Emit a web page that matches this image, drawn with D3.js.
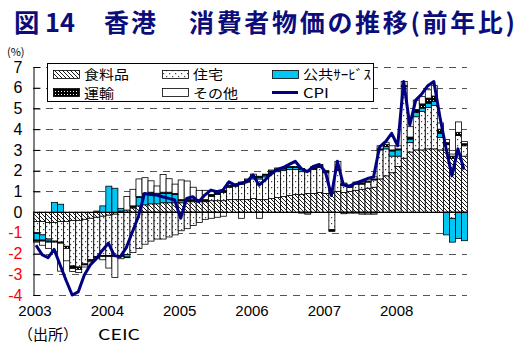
<!DOCTYPE html>
<html><head><meta charset="utf-8">
<script src="https://cdn.jsdelivr.net/npm/d3@7"></script>
<style>
html,body{margin:0;padding:0;background:#fff;}
svg{display:block;}
</style></head><body>
<svg id="chart" width="523" height="343"></svg>
<script>
// ---- data ----
const years = ["2003","2004","2005","2006","2007","2008"];
const monthNums = ["01","02","03","04","05","06","07","08","09","10","11","12"];
const months = years.flatMap(yr => monthNums.map(m => yr + "-" + m));
const yTicks = [7,6,5,4,3,2,1,0,-1,-2,-3,-4];
const yTickLabels = ["7","6","5","4","3","2","1","0","-1","-2","-3","-4"];
const seriesNames = ["食料品","住宅","公共ｻｰﾋﾞｽ","運輸","その他","CPI"];

const food = [
 -0.45,-0.45,-0.5,-0.5,-0.45,-0.45,-0.4,-0.4,-0.35,-0.3,-0.25,-0.2,
 -0.15,-0.1,0.05,0.1,0.2,0.3,0.35,0.4,0.4,0.45,0.45,0.45,
 0.45,0.5,0.5,0.5,0.5,0.55,0.55,0.55,0.6,0.6,0.6,0.6,
 0.65,0.6,0.6,0.65,0.7,0.75,0.8,0.85,0.85,0.9,0.9,0.95,
 0.9,0.95,1.0,0.95,1.0,1.05,1.1,1.15,1.2,1.6,1.75,1.9,
 2.2,2.6,2.9,3.0,3.0,3.05,3.05,3.0,3.0,2.6,2.8,2.7];
const housing = [
 -0.55,-0.65,-0.8,-0.9,-1.0,-1.2,-2.2,-2.25,-2.15,-2.0,-1.9,-1.9,
 -1.95,-2.0,-2.1,-2.05,-1.95,-1.75,-1.55,-1.4,-1.3,-1.3,-1.2,-1.1,
 -0.9,-0.8,-0.65,-0.5,-0.35,0.2,0.3,0.4,0.6,0.65,0.75,0.85,
 0.95,1.0,1.1,1.2,1.25,1.25,1.25,1.2,1.1,1.05,1.15,1.2,
 1.0,-0.85,1.0,0.35,0.2,0.3,0.25,0.3,0.35,1.4,1.3,0.8,
 0.5,3.45,0.45,1.6,1.85,2.0,2.1,0.6,0.25,-0.3,0.9,0.5];
const publicSvc = [
 -0.35,-0.25,-0.1,0.47,0.38,0,0,0,0,0,0.05,0.3,
 1.25,1.15,0.13,-0.12,0.05,0.4,0.5,0.5,0.45,0.45,0.45,0.4,
 0.1,0.05,0.05,0.05,0.05,0.05,0.05,0.05,0.05,0.05,0.05,0.05,
 0.08,0.08,0.08,0.08,0.08,0.08,0.1,0.1,0.1,-0.1,0.05,0.05,
 0.05,0,0,-0.08,-0.05,-0.05,-0.1,-0.1,-0.1,0,0.12,0.25,
 0.3,0,0.17,0.2,0.17,0.2,0.2,0.2,-1.1,-1.15,-1.27,-1.38];
const transport = [
 -0.05,-0.05,-0.05,-0.05,-0.05,-0.1,-0.12,-0.12,-0.05,-0.05,-0.05,-0.05,
 -0.05,-0.05,-0.05,-0.03,0.05,0.05,0.06,0.06,0.06,0.06,0.06,0.05,
 0.05,0.05,0.05,0.05,0.05,0.05,0.05,0.05,0.05,0.05,0.05,0.05,
 0.05,0.05,0.05,0.05,0.05,0.05,0.05,0.05,0.05,0.05,0.05,0.05,
 0.05,-0.08,0.05,0.05,0.05,0.05,0.05,0.05,0.05,0.05,0.1,0.05,
 0.05,0.05,0.1,0.15,0.2,0.25,0.25,0.2,0.1,0.1,0.15,0.1];
const others = [
 -0.05,-0.2,-0.3,-0.45,-1.35,-0.6,-0.15,-0.15,-0.1,-0.05,-0.05,-0.15,
 -0.55,-1.0,-0.1,0.65,0.8,0.85,0.75,0.55,0.35,0.85,0.65,0.45,
 0.95,0.9,0.6,0.45,0.45,-0.3,-0.25,-0.2,0.1,0,-0.3,0.05,
 0.1,-0.3,0,0.05,0.05,0,0,0,-0.05,0,0.05,0.05,
 0,0,0.4,0.05,0.05,0.05,0.05,0.1,0.1,0.15,0.1,0.2,
 0.15,0.2,0.5,0.45,0.35,0.4,0.5,0.3,0.15,0.1,0.5,0.1];
const cpi = [
 -1.6,-2.05,-2.2,-1.8,-2.55,-3.3,-4.0,-3.85,-3.05,-2.55,-2.25,-1.85,
 -1.5,-2.1,-2.15,-1.7,-0.95,-0.2,0.9,0.85,0.82,0.74,0.66,0.58,
 -0.3,0.66,0.74,0.5,0.82,1.06,0.98,1.06,1.46,1.3,1.39,1.46,
 1.8,1.3,1.55,1.85,2.05,2.15,2.3,2.45,2.1,1.95,2.2,2.3,
 1.95,0.8,2.45,1.3,1.25,1.4,1.5,1.62,1.7,3.15,3.4,3.8,
 3.2,6.3,4.2,5.4,5.7,6.1,6.3,4.6,3.1,1.75,3.05,2.05];

// ---- chart ----
const svg = d3.select("#chart");
const navy = "#0c0c7a";
const numFont = "'Liberation Sans Narrow','Liberation Sans',Arial,sans-serif";
const jpFont = "'Noto Sans CJK JP','Noto Sans',sans-serif";

const x = d3.scaleBand().domain(months).range([33, 467]).padding(0);
const y = d3.scaleLinear().domain([-4, 7]).range([295, 67]);

// patterns
const defs = svg.append("defs");
const ph = defs.append("pattern").attr("id","hatch").attr("patternUnits","userSpaceOnUse")
  .attr("width",4).attr("height",4);
ph.append("rect").attr("width",4).attr("height",4).attr("fill","#fff");
ph.append("path").attr("d","M-1,-1 L5,5 M-1,3 L1,5 M3,-1 L5,1").attr("stroke","#000").attr("stroke-width",0.9);
const pd = defs.append("pattern").attr("id","dots").attr("patternUnits","userSpaceOnUse")
  .attr("width",6).attr("height",6);
pd.append("rect").attr("width",6).attr("height",6).attr("fill","#fff");
pd.append("rect").attr("x",1).attr("y",1).attr("width",1.2).attr("height",1.2).attr("fill","#444");
pd.append("rect").attr("x",4).attr("y",4).attr("width",1.2).attr("height",1.2).attr("fill","#444");
const pc = defs.append("pattern").attr("id","checker").attr("patternUnits","userSpaceOnUse")
  .attr("width",3).attr("height",3);
pc.append("rect").attr("width",3).attr("height",3).attr("fill","#000");
pc.append("rect").attr("x",1).attr("y",1).attr("width",1).attr("height",1).attr("fill","#fff");

const keys = ["food","housing","publicSvc","transport","others"];
const fills = {food:"url(#hatch)", housing:"url(#dots)", publicSvc:"#00c6f4", transport:"url(#checker)", others:"#fff"};

// title
const title = svg.append("g").attr("font-family", jpFont).attr("font-weight","bold")
  .attr("font-size",25).attr("fill",navy);
title.append("text").attr("x",14).attr("y",32).attr("textLength",61).attr("lengthAdjust","spacingAndGlyphs").text("図 14");
title.append("text").attr("x",104).attr("y",32).attr("textLength",52).attr("lengthAdjust","spacing").text("香港");
title.append("text").attr("x",189).attr("y",32).attr("textLength",326).attr("lengthAdjust","spacing").text("消費者物価の推移(前年比)");

svg.append("text").attr("x",7).attr("y",56).attr("font-family",jpFont).attr("font-size",11).text("(%)");

// gridlines
svg.append("g").selectAll("line").data(yTicks).join("line")
  .attr("x1",33).attr("x2",467)
  .attr("y1",d=>Math.round(y(d))+0.5).attr("y2",d=>Math.round(y(d))+0.5)
  .attr("stroke","#555").attr("stroke-width",1).attr("stroke-dasharray","7,6");

// bars
const data = months.map((m,i)=>({month:m, food:food[i], housing:housing[i], publicSvc:publicSvc[i], transport:transport[i], others:others[i]}));
const stacked = d3.stack().keys(keys).offset(d3.stackOffsetDiverging)(data);
const barG = svg.append("g");
stacked.forEach(s => {
  barG.append("g").selectAll("rect").data(s.filter(d => Math.abs(d[1]-d[0]) > 1e-9)).join("rect")
    .attr("x", d => x(d.data.month)+0.5)
    .attr("y", d => y(Math.max(d[0],d[1])))
    .attr("width", x.bandwidth())
    .attr("height", d => Math.abs(y(d[0]) - y(d[1])))
    .attr("fill", fills[s.key])
    .attr("stroke","#000").attr("stroke-width",0.8);
});

// zero line
svg.append("line").attr("x1",33).attr("x2",467).attr("y1",Math.round(y(0))+0.5).attr("y2",Math.round(y(0))+0.5)
  .attr("stroke","#000").attr("stroke-width",1);

// y axis
const yAxis = svg.append("g").attr("transform","translate(33.5,0)")
  .call(d3.axisLeft(y).tickValues(yTicks).tickSize(-7).tickSizeOuter(0).tickPadding(11)
    .tickFormat((d,i)=>yTickLabels[i]));
yAxis.select(".domain").attr("stroke","#000");
yAxis.selectAll(".tick line").attr("stroke","#000");
yAxis.selectAll(".tick text").attr("font-family",numFont).attr("font-size",16)
  .attr("fill", d => d < 0 ? "#ff0000" : "#000");

// x labels
svg.append("g").selectAll("text").data(years).join("text")
  .attr("x", d => x(d + "-01") + 2).attr("y", 316)
  .attr("text-anchor","middle").attr("font-family",numFont).attr("font-size",15)
  .text(d => d);

// CPI line
const line = d3.line().x((d,i)=>x(months[i]) + x.bandwidth()/2).y(d=>y(d));
svg.append("path").datum(cpi).attr("d",line).attr("fill","none")
  .attr("stroke","#000080").attr("stroke-width",3).attr("stroke-linejoin","round");

// legend
const lg = svg.append("g");
lg.append("rect").attr("x",47.5).attr("y",63.5).attr("width",326).attr("height",38)
  .attr("fill","#fff").attr("stroke","#000").attr("stroke-width",1);
const legendItems = [
  {name:seriesNames[0], key:"food", sx:53, row:0, w:45},
  {name:seriesNames[1], key:"housing", sx:162, row:0, w:30},
  {name:seriesNames[2], key:"publicSvc", sx:272, row:0, w:68},
  {name:seriesNames[3], key:"transport", sx:53, row:1, w:30},
  {name:seriesNames[4], key:"others", sx:162, row:1, w:45},
  {name:seriesNames[5], key:"cpi", sx:272, row:1, w:26}
];
legendItems.forEach(it => {
  const sy = it.row === 0 ? 70 : 88;
  if (it.key === "cpi") {
    lg.append("line").attr("x1",it.sx).attr("x2",it.sx+26).attr("y1",sy+4.5).attr("y2",sy+4.5)
      .attr("stroke","#000080").attr("stroke-width",3);
  } else {
    lg.append("rect").attr("x",it.sx+0.5).attr("y",sy+0.5).attr("width",26).attr("height",8)
      .attr("fill",fills[it.key]).attr("stroke","#000").attr("stroke-width",0.8);
  }
  lg.append("text").attr("x",it.sx+31).attr("y",sy+(it.row===0?9:10)).attr("font-family",jpFont)
    .attr("font-size",13).attr("textLength",it.w).attr("lengthAdjust","spacingAndGlyphs").text(it.name);
});

// source
const src = svg.append("g").attr("font-family",jpFont).attr("font-size",15);
src.append("text").attr("x",18).attr("y",340).text("（出所）");
src.append("text").attr("x",98).attr("y",340).attr("textLength",42).attr("lengthAdjust","spacingAndGlyphs").text("CEIC");
</script>
</body></html>
